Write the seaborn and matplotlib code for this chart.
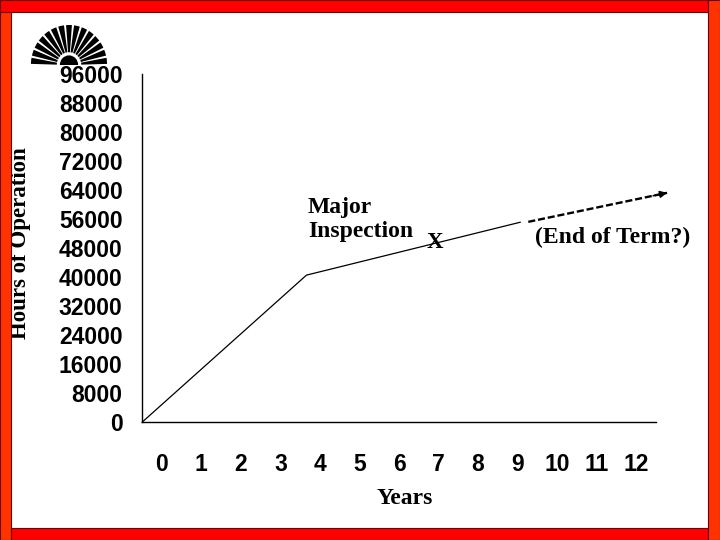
import matplotlib
matplotlib.use("Agg")
import matplotlib.pyplot as plt
import matplotlib.patches as mpatches
import seaborn as sns
import pandas as pd
import numpy as np

# ---- data ----
year_labels = [str(i) for i in range(13)]
hour_ticks = list(range(0, 96001, 8000))
solid_x = [0.0, 4.16, 9.57]
solid_y = [0, 40600, 55200]
dash_x = [9.77, 13.28]
dash_y = [55300, 63300]

sns.set_style("white")
plt.rcParams['font.family'] = ['Liberation Sans', 'DejaVu Sans']
plt.rcParams['text.color'] = 'black'
plt.rcParams['axes.labelcolor'] = 'black'
plt.rcParams['xtick.color'] = 'black'
plt.rcParams['ytick.color'] = 'black'

fig = plt.figure(figsize=(7.2, 5.4), dpi=100)
fig.patch.set_facecolor('white')

W, H = 720.0, 540.0
ax = fig.add_axes([142 / W, 1 - 422.3 / H, (656 - 142) / W, (422.3 - 74.3) / H])
ax.set_facecolor('none')

solid_df = pd.DataFrame({'x': solid_x, 'y': solid_y})
dash_df = pd.DataFrame({'x': dash_x, 'y': dash_y})
sns.lineplot(data=solid_df, x='x', y='y', ax=ax, color='black', lw=0.9,
             sort=False, estimator=None, clip_on=False)
sns.lineplot(data=dash_df, x='x', y='y', ax=ax, color='black', lw=1.7,
             sort=False, estimator=None, clip_on=False, dashes=False,
             linestyle=(0, (3.0, 1.2)))
# arrow head at end of dashed projection
fx = dash_x[-2] + 0.9 * (dash_x[-1] - dash_x[-2])
fy = dash_y[-2] + 0.9 * (dash_y[-1] - dash_y[-2])
ax.annotate('', xy=(dash_x[-1], dash_y[-1]), xytext=(fx, fy),
            arrowprops=dict(arrowstyle='-|>', color='black', lw=1.2,
                            mutation_scale=10, shrinkA=0, shrinkB=0),
            annotation_clip=False)

ax.set_xlim(0, 13)
ax.set_ylim(0, 96000)
sns.despine(ax=ax)
for s in ['left', 'bottom']:
    ax.spines[s].set_color('black')
    ax.spines[s].set_linewidth(1.0)

ax.set_yticks(hour_ticks)
ax.set_yticklabels([str(v) for v in hour_ticks], fontsize=16.5, fontweight='bold',
                   family=['Liberation Sans', 'DejaVu Sans'])
ax.tick_params(axis='y', direction='out', length=7, width=1, pad=7, colors='black')

ax.set_xticks(range(0, 14))
ax.set_xticklabels([])
ax.set_xticks([i + 0.5 for i in range(13)], minor=True)
ax.set_xticklabels(year_labels, minor=True, fontsize=16.5, fontweight='bold',
                   family=['Liberation Sans', 'DejaVu Sans'])
ax.tick_params(axis='x', which='major', direction='out', length=8, width=1, colors='black')
ax.tick_params(axis='x', which='minor', length=0, pad=22)

serif = ['Liberation Serif', 'DejaVu Serif']
ax.set_xlabel('Years', fontsize=17, fontweight='bold', family=serif)
ax.xaxis.set_label_coords((405 - 142) / 514, -(499 - 422.3) / 348)
ax.xaxis.label.set_va('center')
ax.set_ylabel('Hours of Operation', fontsize=16.5, fontweight='bold', family=serif)
ax.yaxis.set_label_coords((21 - 142) / 514, (422.3 - 243) / 348)
ax.yaxis.label.set_va('center')

ax.text(4.2, 55945, 'Major\nInspection', fontsize=17, fontweight='bold', family=serif,
        ha='left', va='center', linespacing=1.2)
ax.text(7.4, 49500, 'X', fontsize=16.5, fontweight='bold', family=serif,
        ha='center', va='center')
ax.text(9.95, 51117, '(End of Term?)', fontsize=17, fontweight='bold', family=serif,
        ha='left', va='center', clip_on=False)

# ---- slide frame ----
def rect(x0, y0, x1, y1, color):
    fig.patches.append(mpatches.Rectangle((x0 / W, 1 - y1 / H), (x1 - x0) / W, (y1 - y0) / H,
                                          transform=fig.transFigure, facecolor=color,
                                          edgecolor='#6b0000', lw=0.8, zorder=5))

rect(0, 0, 708, 12, '#ff0000')
rect(0, 12, 11, 540, '#ff3300')
rect(11, 528, 708, 540, '#ff0000')
rect(708, 0, 720, 540, '#ff3300')

# ---- logo (decorative sunburst) ----
lax = fig.add_axes([29 / W, 1 - 67 / H, 80 / W, 44 / H])
lax.set_xlim(-1.05, 1.05)
lax.set_ylim(-0.05, 1.05)
lax.axis('off')
n = 15
for i in range(n):
    a = 180.0 * (i + 0.5) / n
    lax.add_patch(mpatches.Wedge((0, 0), 1.0, a - 4.4, a + 4.4, width=0.68,
                                 facecolor='black', edgecolor='none'))
lax.add_patch(mpatches.Wedge((0, 0), 0.24, 0, 180, facecolor='black', edgecolor='none'))

fig.savefig('out.png', dpi=100)
